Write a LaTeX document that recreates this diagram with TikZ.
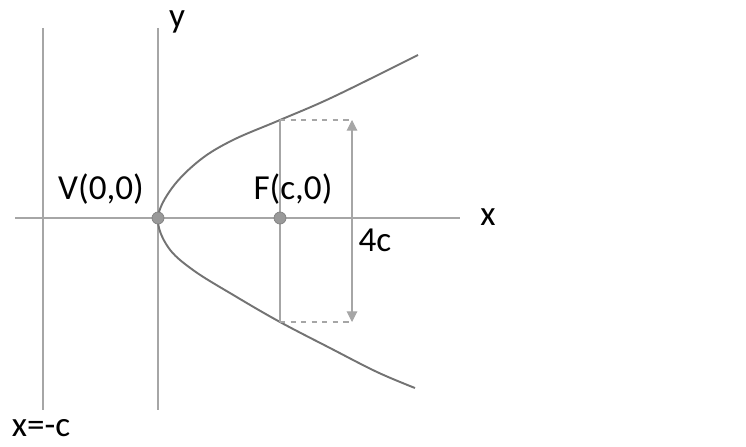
\documentclass[tikz,border=0pt]{standalone}
\usepackage{fontspec}
\setmainfont{Carlito}
\usepackage{tikz}
\usetikzlibrary{arrows.meta,positioning,calc}

\begin{document}
\begin{tikzpicture}[x=0.02cm, y=-0.02cm,
      axis/.style={draw=black!35, line width=0.6pt},
      curve/.style={draw=black!55, line width=1.1pt},
      dashline/.style={draw=black!35, dashed, line width=0.6pt},
      arrowstyle/.style={{Triangle[length=6pt,width=6pt]}-{Triangle[length=6pt,width=6pt]}, draw=black!35, fill=black!35, line width=0.6pt},
      dot/.style={circle, fill=black!40, draw=black!50, inner sep=0pt, minimum size=0.24cm},
      every node/.style={font=\fontsize{20}{24}\selectfont, inner sep=0pt}
    ]
    \useasboundingbox (0,0) rectangle (746,446);

    % Axes and directrix
    \coordinate (xl) at (15,218);
    \coordinate (xr) at (460,218);
    \coordinate (yt) at (158,28);
    \coordinate (yb) at (158,410);
    \coordinate (dt) at (43,28);
    \coordinate (db) at (43,410);
    \draw[axis] (xl) -- (xr);
    \draw[axis] (yt) -- (yb);
    \draw[axis] (dt) -- (db);

    % Parabola
    \draw[curve] plot[smooth, tension=0.6] coordinates {(418,55) (333,97) (280,120) (233,140) (200,160) (172,188) (158,218) (168,247) (193,270) (235,296) (280,322) (330,348) (377,372) (415,388)};

    % Latus rectum
    \coordinate (lrtop) at (280,120);
    \coordinate (lrbot) at (280,322);
    \coordinate (arrtop) at (352,120);
    \coordinate (arrbot) at (352,322);
    \draw[axis] (lrtop) -- (lrbot);
    \draw[dashline] (lrtop) -- (arrtop);
    \draw[dashline] (lrbot) -- (arrbot);
    \draw[arrowstyle] (arrtop) -- (arrbot);

    % Vertex and focus
    \node[dot] (vertex) at (158,218) {};
    \node[dot] (focus) at (280,218) {};

    % Labels
    \node (vlabel) at (101,189) {V(0,0)};
    \node (flabel) at (293,189) {F(c,0)};
    \node (lrlabel) at (375,240) {4c};
    \node (ylabel) at (177,22) {y};
    \node (xlabel) at (488,217) {x};
    \node (dlabel) at (41,428) {x=-c};
  \end{tikzpicture}
\end{document}
